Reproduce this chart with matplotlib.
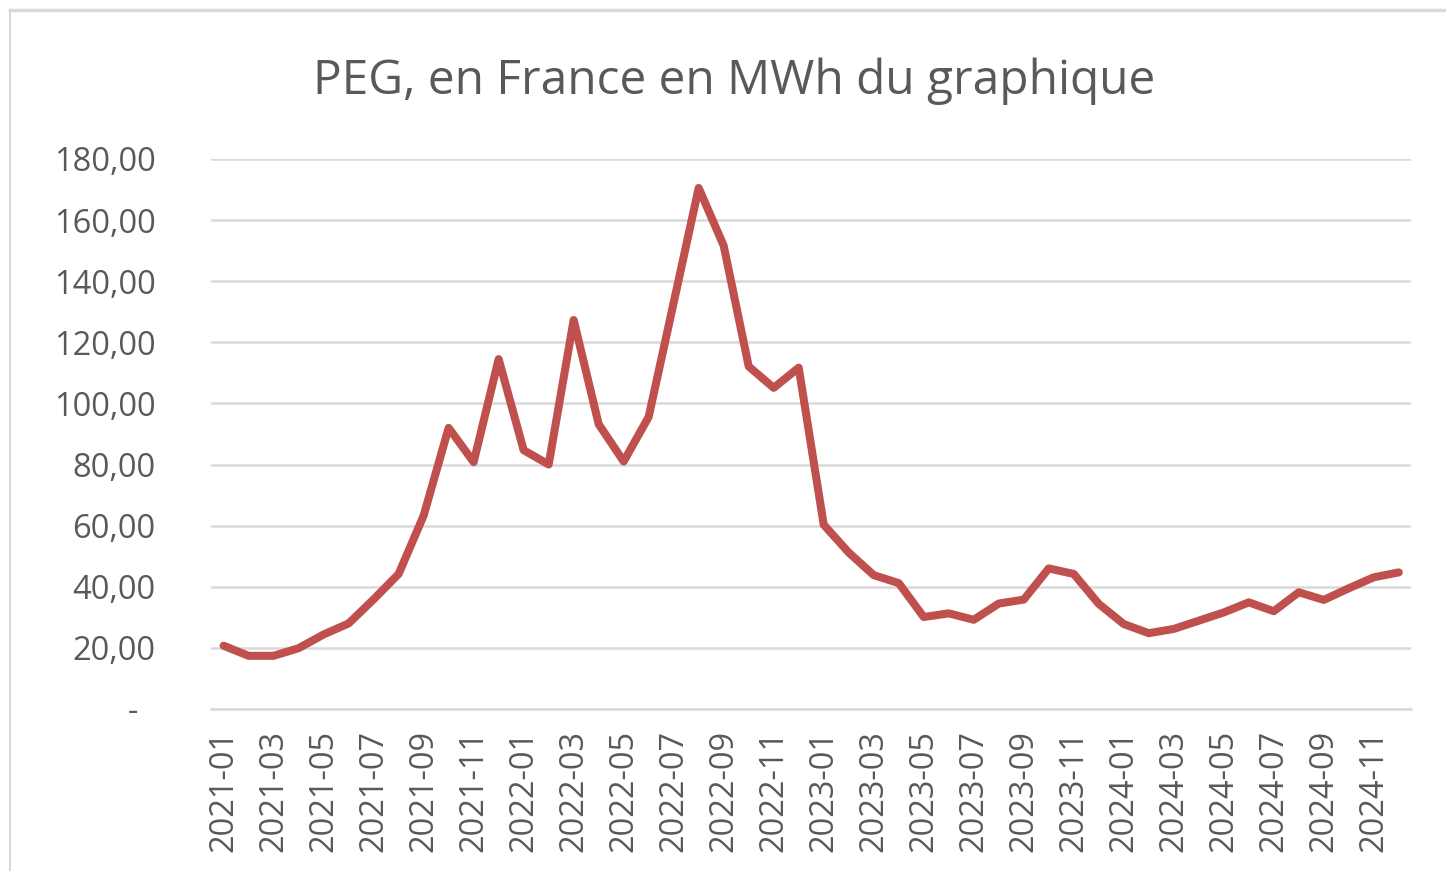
import matplotlib
matplotlib.use("Agg")
import matplotlib.pyplot as plt
from matplotlib.lines import Line2D

# monthly PEG price, 2021-01 .. 2024-12
months = [f"{y}-{m:02d}" for y in range(2021, 2025) for m in range(1, 13)]
prices = [
    20.7, 17.4, 17.4, 19.9, 24.4, 28.0, 35.9, 44.2, 63.3, 92.0, 80.8, 114.5,
    84.7, 80.0, 127.3, 93.2, 81.0, 95.6, 133.0, 170.5, 151.6, 112.1, 105.1, 111.7,
    60.3, 51.2, 43.8, 41.2, 30.1, 31.3, 29.2, 34.5, 35.8, 46.0, 44.2, 34.4,
    27.8, 24.8, 26.2, 28.9, 31.6, 34.9, 32.0, 38.2, 35.7, 39.5, 43.1, 44.7,
]
yticks = [0, 20, 40, 60, 80, 100, 120, 140, 160, 180]
ytick_labels = ["-  "] + [f"{v},00" for v in yticks[1:]]
title = "PEG, en France en MWh du graphique"

text_col = "#595959"
grid_col = "#D9D9D9"
line_col = "#C0504D"

plt.rcParams["font.family"] = ["Open Sans", "DejaVu Sans"]

fig = plt.figure(figsize=(14.46, 8.71), dpi=100)
ax = fig.add_axes([0.146, 0.186, 0.830, 0.6315])

x = list(range(len(months)))
ax.plot(x, prices, color=line_col, lw=5.8, solid_joinstyle="round",
        solid_capstyle="round", zorder=3)

ax.set_xlim(-0.5, len(months) - 0.5)
ax.set_ylim(0, 180)
ax.set_yticks(yticks)
ax.set_yticklabels(ytick_labels)
ax.set_xticks(x[::2])
ax.set_xticklabels(months[::2], rotation=90)

ax.grid(axis="y", color=grid_col, lw=1.8, zorder=0)
ax.set_axisbelow(True)
for s in ["top", "right", "left"]:
    ax.spines[s].set_visible(False)
ax.spines["bottom"].set_color(grid_col)
ax.spines["bottom"].set_linewidth(1.8)
ax.tick_params(axis="both", length=0, labelsize=23.5, colors=text_col)
ax.tick_params(axis="y", pad=40)
ax.tick_params(axis="x", pad=15)

fig.text(0.5076, 0.907, title, ha="center", va="center", fontsize=34.5, color=text_col)

# chart frame (left and top edges)
W, H = 1446, 871
fig.add_artist(Line2D([10 / W, 10 / W], [0, 1 - 10 / H], color=grid_col, lw=1.5,
                      transform=fig.transFigure))
fig.add_artist(Line2D([10 / W, 1], [1 - 10 / H, 1 - 10 / H], color=grid_col, lw=2.5,
                      transform=fig.transFigure))

fig.savefig("out.png", dpi=100)
